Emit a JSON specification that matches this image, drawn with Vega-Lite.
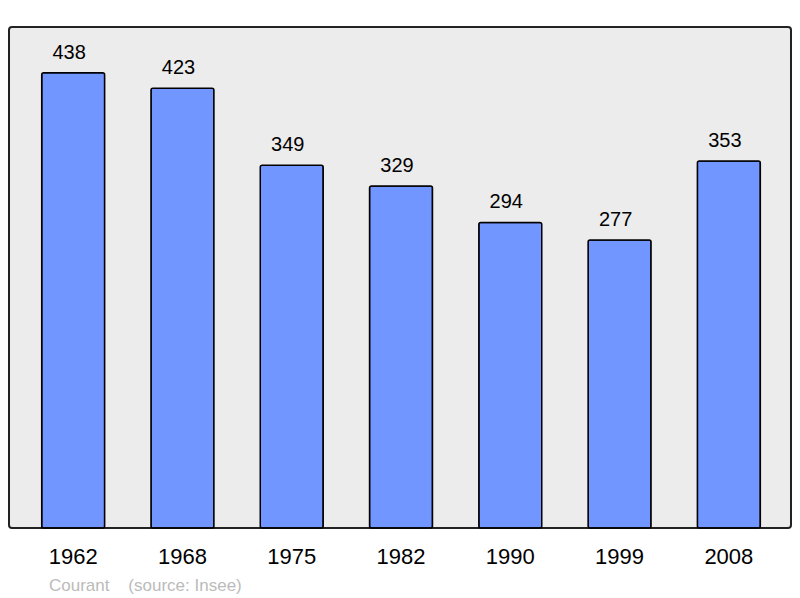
{
  "$schema": "https://vega.github.io/schema/vega-lite/v6.json",
  "width": 782,
  "height": 501,
  "autosize": "none",
  "padding": {"left": 9, "top": 27, "right": 9, "bottom": 70},
  "background": "#ffffff",
  "config": {
    "font": "Liberation Sans",
    "view": {"fill": "#ececec", "stroke": "#222222", "strokeWidth": 2, "cornerRadius": 3}
  },
  "title": {
    "text": "Courant\u00a0\u00a0\u00a0\u00a0(source: Insee)",
    "orient": "bottom",
    "anchor": "start",
    "dx": 40,
    "offset": 11,
    "fontSize": 17,
    "fontWeight": "normal",
    "color": "#bbbbbb",
    "font": "Liberation Sans"
  },
  "data": {
    "values": [
      {"year": "1962", "pop": 438},
      {"year": "1968", "pop": 423},
      {"year": "1975", "pop": 349},
      {"year": "1982", "pop": 329},
      {"year": "1990", "pop": 294},
      {"year": "1999", "pop": 277},
      {"year": "2008", "pop": 353}
    ]
  },
  "encoding": {
    "x": {
      "field": "year",
      "type": "nominal",
      "sort": null,
      "scale": {"paddingInner": 0.424, "paddingOuter": 0.29, "align": 0.516},
      "axis": {
        "title": null,
        "domain": false,
        "ticks": false,
        "labelAngle": 0,
        "labelFontSize": 22,
        "labelColor": "#000000",
        "labelPadding": 18,
        "labelFont": "Liberation Sans"
      }
    },
    "y": {
      "field": "pop",
      "type": "quantitative",
      "scale": {"domain": [0, 482], "nice": false},
      "axis": null
    }
  },
  "layer": [
    {
      "mark": {"type": "bar", "fill": "#7196ff", "stroke": "#000000", "strokeWidth": 1.5, "cornerRadius": 2}
    },
    {
      "mark": {"type": "text", "baseline": "alphabetic", "dy": -14, "dx": -4, "fontSize": 20, "color": "#000000", "font": "Liberation Sans"},
      "encoding": {"text": {"field": "pop", "type": "quantitative"}}
    }
  ]
}
